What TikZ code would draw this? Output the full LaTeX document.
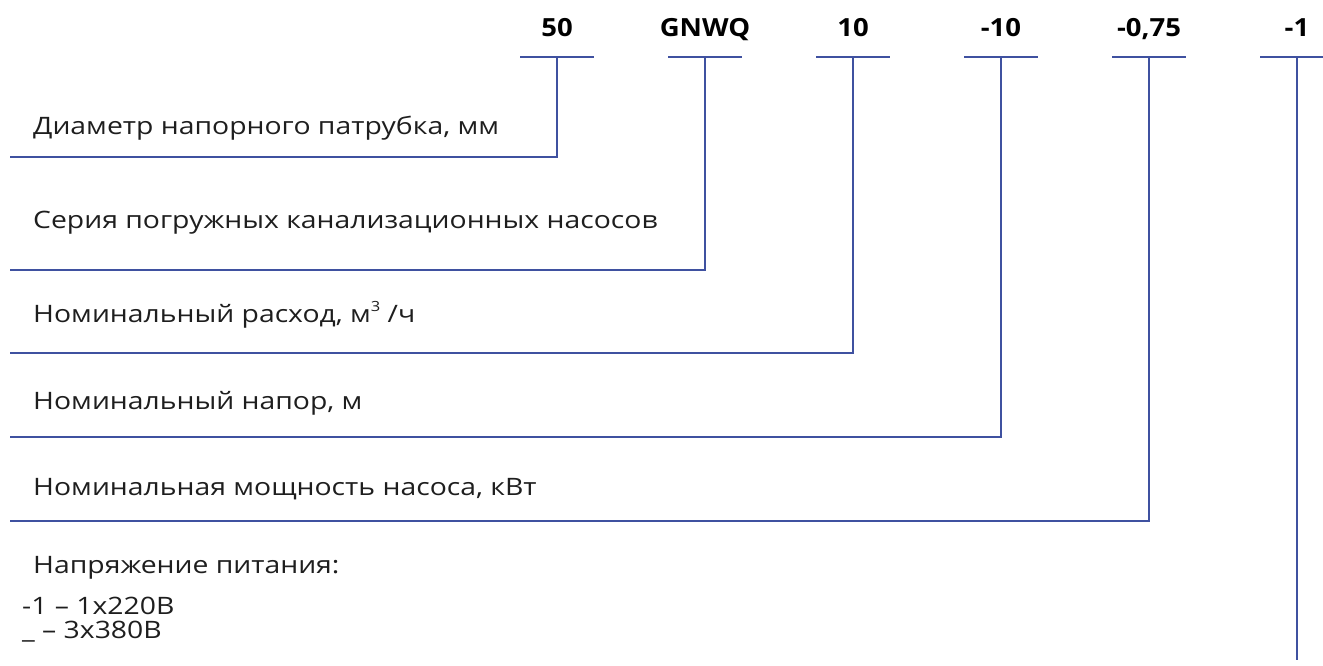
\documentclass[tikz,border=0pt]{standalone}
\usepackage{fontspec}
\setmainfont{Open Sans}[FakeStretch=1.18]
\newfontfamily\codefont{Open Sans}[FakeStretch=1.1]
\definecolor{lineblue}{RGB}{63,81,160}
\definecolor{txt}{RGB}{30,30,30}
\begin{document}
\begin{tikzpicture}[x=1pt,y=-1pt,
  conn/.style={draw=lineblue, line width=1.8pt},
  code/.style={font=\codefont\fontsize{25}{28}\selectfont\bfseries, anchor=base, inner sep=0pt, text=black},
  desc/.style={font=\fontsize{24}{28}\selectfont, anchor=base west, inner sep=0pt, text=txt}]
\useasboundingbox (0,0) rectangle (1323,666);
% code labels
\node[code] (c1) at (557,37) {50};
\node[code] (c2) at (705,37) {GNWQ};
\node[code] (c3) at (853,37) {10};
\node[code] (c4) at (1001,37) {-10};
\node[code] (c5) at (1149,37) {-0,75};
\node[code] (c6) at (1297,37) {-1};
% bars
\foreach \i/\x in {1/557,2/705,3/853,4/1001,5/1149,6/1297}{
  \coordinate (b\i) at (\x,57);
  \coordinate (bl\i) at (\x-37,57);
  \coordinate (br\i) at (\x+37,57);
}
\coordinate (br6) at (1323,57);
\foreach \i in {1,...,6}{ \draw[conn] (bl\i) -- (br\i); }
% elbows
\coordinate (e1) at (557,157);  \coordinate (l1) at (10,157);
\coordinate (e2) at (705,270);  \coordinate (l2) at (10,270);
\coordinate (e3) at (853,353);  \coordinate (l3) at (10,353);
\coordinate (e4) at (1001,437); \coordinate (l4) at (10,437);
\coordinate (e5) at (1149,521); \coordinate (l5) at (10,521);
\coordinate (e6) at (1297,660);
\foreach \i in {1,...,5}{ \draw[conn] (b\i) -- (e\i) -- (l\i); }
\draw[conn] (b6) -- (e6);
% descriptions
\node[desc] (d1) at (33,135) {Диаметр напорного патрубка, мм};
\node[desc] (d2) at (33,228) {Серия погружных канализационных насосов};
\node[desc] (d3) at (33,322) {Номинальный расход, м\raisebox{0.45em}{\fontsize{14}{16}\selectfont 3} /ч};
\node[desc] (d4) at (33,409) {Номинальный напор, м};
\node[desc] (d5) at (33,495) {Номинальная мощность насоса, кВт};
\node[desc] (d6) at (33,573) {Напряжение питания:};
\node[desc] (d7) at (22,614) {-1 – 1x220В};
\node[desc] (d8) at (22,638) {\_ – 3x380В};
\end{tikzpicture}
\end{document}
